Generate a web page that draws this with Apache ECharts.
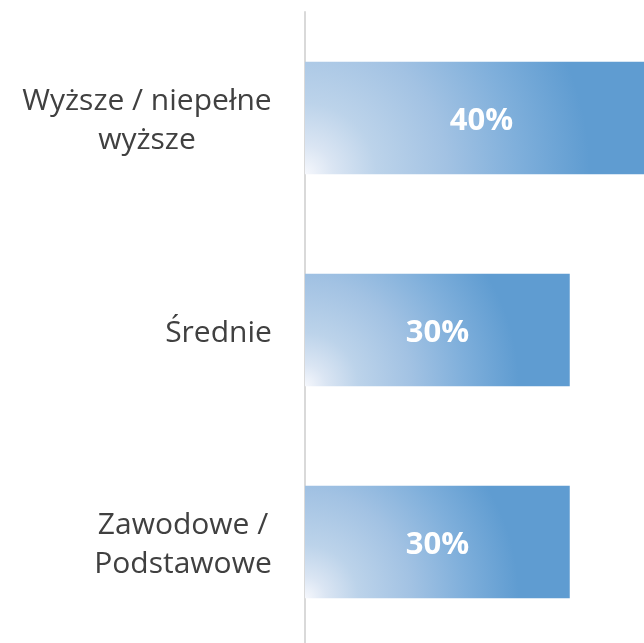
<!DOCTYPE html>
<html>
<head>
<meta charset="utf-8">
<script src="https://cdn.jsdelivr.net/npm/echarts@6/dist/echarts.min.js"></script>
<style>
  html, body { margin: 0; padding: 0; background: #fff; overflow: hidden; }
  /* the 40% bar and the last band run past the window edges */
  #chart { width: 658px; height: 648px; }
</style>
</head>
<body>
<div id="chart"></div>
<script>
// DATA
const categories = ["Wyższe / niepełne\nwyższe", "Średnie", "Zawodowe /\nPodstawowe"];
const values = [40, 30, 30];

const FONT = "'Open Sans', 'Noto Sans', sans-serif";
const LABEL_SIZE = 30;

// measure each line so multi-line labels are centred inside a right-aligned block
const ctx = document.createElement("canvas").getContext("2d");
ctx.font = LABEL_SIZE + "px " + FONT;
const rich = {};
categories.forEach((c, i) => {
  const w = Math.max(...c.split("\n").map((l) => ctx.measureText(l).width));
  rich["c" + i] = {
    width: Math.ceil(w),
    align: "center",
    fontSize: LABEL_SIZE,
    lineHeight: 39,
    fontFamily: FONT,
    color: "#404040",
  };
});

// bar fill: radial gradient from bottom-left corner, scaled with bar length
function barFill(v) {
  return new echarts.graphic.RadialGradient(0, 1, 1.9 * v / 30, [
    { offset: 0, color: "#f5f7fc" },
    { offset: 0.1, color: "#dae5f3" },
    { offset: 0.25, color: "#bcd3ea" },
    { offset: 0.5, color: "#a2c2e3" },
    { offset: 0.75, color: "#7fafdb" },
    { offset: 1, color: "#5f9cd1" },
  ]);
}

const chart = echarts.init(document.getElementById("chart"));
chart.setOption({
  animation: false,
  grid: { left: 305, right: 0, top: 12, bottom: 0 },
  xAxis: {
    type: "value",
    min: 0,
    max: 40,
    show: false,
  },
  yAxis: {
    type: "category",
    data: categories,
    inverse: true,
    axisLine: { show: true, lineStyle: { color: "#d9d9d9", width: 2 } },
    axisTick: { show: false },
    axisLabel: {
      margin: 33,
      padding: [6, 0, 0, 0],
      formatter: (val, idx) =>
        val.split("\n").map((l) => "{c" + idx + "|" + l + "}").join("\n"),
      rich: rich,
    },
  },
  series: [
    {
      type: "bar",
      barCategoryGap: "47%",
      data: values.map((v) => ({ value: v, itemStyle: { color: barFill(v) } })),
      label: {
        show: true,
        position: "inside",
        offset: [0, 3],
        formatter: "{c}%",
        color: "#fff",
        fontWeight: "bold",
        fontSize: 31,
        fontFamily: FONT,
      },
    },
  ],
});
</script>
</body>
</html>
